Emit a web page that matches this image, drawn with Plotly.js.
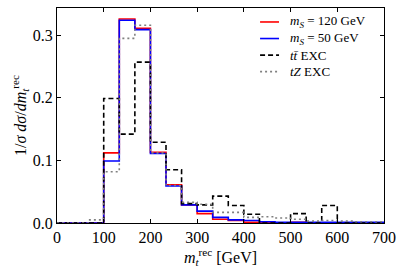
<!DOCTYPE html>
<html>
<head>
<meta charset="utf-8">
<script src="https://cdn.plot.ly/plotly-3.0.1.min.js"></script>
<style>html,body{margin:0;padding:0;background:#fff;}</style>
</head>
<body>
<div id="chart" style="width:406px;height:275px;"></div>
<script>
// 21 bins of width 700/21 GeV between 0 and 700
const binEdges = [0, 33.33, 66.67, 100, 133.33, 166.67, 200, 233.33, 266.67, 300, 333.33, 366.67,
                  400, 433.33, 466.67, 500, 533.33, 566.67, 600, 633.33, 666.67, 700];
const mS120 = [0, 0, 0, 0.112, 0.326, 0.311, 0.113, 0.061, 0.029, 0.015, 0.006, 0.004, 0.001,
               0.0005, 0.0005, 0.001, 0.0005, 0.0005, 0.0005, 0.0005, 0.0003];
const mS50 = [0, 0, 0, 0.099, 0.324, 0.309, 0.111, 0.059, 0.029, 0.019, 0.009, 0.005, 0.004,
              0.002, 0.001, 0.001, 0.001, 0.001, 0.001, 0.001, 0.001];
const ttEXC = [0, 0, 0, 0.199, 0.142, 0.257, 0.129, 0.085, 0.031, 0.029, 0.043, 0.028, 0.014,
               0, 0, 0.015, 0, 0.028, 0, 0, 0];
const tZEXC = [0, 0, 0.005, 0.082, 0.295, 0.316, 0.112, 0.060, 0.033, 0.030, 0.017, 0.017, 0.009,
               0.010, 0.008, 0.006, 0.003, 0.004, 0.003, 0.002, 0.002];
const names = ['<i>m<sub>S</sub></i> = 120 GeV', '<i>m<sub>S</sub></i> = 50 GeV',
               '<i>tt\u0304</i> EXC', '<i>tZ</i> EXC'];
const colors = ['#ff0000', '#0000ff', '#000000', '#808080'];
const dashes = ['solid', 'solid', '5px,3px', '2px,3px'];

function stepTrace(vals, i) {
  const y = vals.concat([vals[vals.length - 1]]);
  return {
    x: binEdges, y: y, name: names[i], type: 'scatter', mode: 'lines',
    line: {shape: 'hv', color: colors[i], width: 1.6, dash: dashes[i]},
    hoverinfo: 'skip'
  };
}

const data = [stepTrace(mS120, 0), stepTrace(mS50, 1), stepTrace(ttEXC, 2), stepTrace(tZEXC, 3)];

const legRows = [0.935, 0.858, 0.781, 0.704];
const shapes = [], annotations = [];
names.forEach((n, i) => {
  shapes.push({type: 'line', xref: 'paper', yref: 'paper', x0: 0.621, x1: 0.679,
               y0: legRows[i], y1: legRows[i], line: {color: colors[i], width: 1.6, dash: dashes[i]}});
  annotations.push({xref: 'paper', yref: 'paper', x: 0.705, y: legRows[i], xanchor: 'left', yanchor: 'middle',
                    text: n, showarrow: false, font: {family: 'Liberation Serif', size: 13, color: '#000'}});
});

const font = 'Liberation Serif';
const layout = {
  width: 406, height: 275,
  margin: {l: 57, r: 22, t: 8, b: 52},
  paper_bgcolor: '#fff', plot_bgcolor: '#fff',
  font: {family: font, size: 16, color: '#000'},
  showlegend: false,
  shapes: shapes, annotations: annotations,
  xaxis: {
    range: [0, 700], dtick: 100, tick0: 0, ticks: 'inside', ticklen: 4, tickcolor: '#000',
    tickfont: {family: font, size: 16, color: '#000'},
    showline: true, linecolor: '#000', linewidth: 1, mirror: 'allticks', showgrid: false, zeroline: false,
    title: {text: '<i>m<sub>t</sub></i><sup>rec</sup> [GeV]', font: {family: font, size: 16, color: '#000'}, standoff: 0}
  },
  yaxis: {
    range: [0, 0.3435], dtick: 0.1, tick0: 0, tickformat: '.1f', ticks: 'inside', ticklen: 4, tickcolor: '#000',
    tickfont: {family: font, size: 16, color: '#000'},
    showline: true, linecolor: '#000', linewidth: 1, mirror: 'allticks', showgrid: false, zeroline: false,
    title: {text: '1/<i>σ dσ</i>/<i>dm<sub>t</sub></i><sup>rec</sup>', font: {family: font, size: 16, color: '#000'}, standoff: 2}
  }
};

Plotly.newPlot('chart', data, layout, {displayModeBar: false, staticPlot: true});
</script>
</body>
</html>
